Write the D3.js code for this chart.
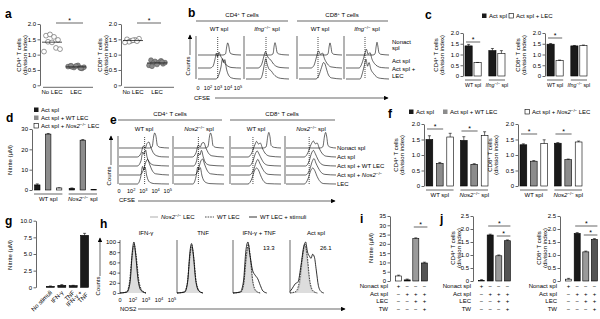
<!DOCTYPE html>
<html><head><meta charset="utf-8">
<script src="https://cdn.jsdelivr.net/npm/d3@7"></script>
<style>body{margin:0;background:#fff}</style>
</head><body><div id="fig"></div>
<script>
// ---- data ----
const aGroups = ["No LEC", "LEC"];
const aCD4NoLEC = [1.62, 1.66, 1.58, 1.48, 1.42, 1.40, 1.22, 1.10, 1.18];
const aCD4LEC = [0.62, 0.58, 0.65, 0.55, 0.60, 0.63, 0.57, 0.61, 0.59, 0.64, 0.56];
const aCD8NoLEC = [1.50, 1.45, 1.48, 1.52, 1.42, 1.47, 1.44, 1.40];
const aCD8LEC = [0.82, 0.78, 0.75, 0.70, 0.72, 0.68, 0.80, 0.65, 0.74, 0.62, 0.76];

const cGroups = ["WT", "Ifng"];
const cCD4 = [[1.40, 0.62], [1.18, 1.05]];
const cCD4Err = [[0.07, 0.01], [0.10, 0.13]];
const cCD8 = [[1.48, 0.72], [1.40, 1.42]];
const cCD8Err = [[0.03, 0.02], [0.02, 0.02]];

const dGroups = ["WT", "Nos2"];
const dNitrite = [[2.5, 27.5, 1.0], [0.8, 24.5, 0.2]];
const dErr = [[0.5, 0.3, 0.1], [0.2, 0.3, 0.05]];

const fCD4 = [[1.50, 0.73, 1.58], [1.47, 0.70, 1.63]];
const fCD4Err = [[0.12, 0.03, 0.12], [0.12, 0.02, 0.12]];
const fCD8 = [[1.33, 0.80, 1.37], [1.38, 0.85, 1.42]];
const fCD8Err = [[0.03, 0.02, 0.12], [0.02, 0.02, 0.03]];

const gStimuli = ["No stimuli", "IFN-γ", "TNF", "IFN-γ + TNF"];
const gNitrite = [0.15, 0.3, 0.25, 7.8];
const gErr = [0.05, 0.1, 0.05, 0.3];

const tableRows = ["Nonact spl", "Act spl", "LEC", "TW"];
const tableSigns = [["+", "−", "−", "−"], ["−", "+", "+", "+"], ["−", "−", "+", "+"], ["−", "−", "−", "+"]];
const iNitrite = [2.7, 0.6, 22.8, 9.7];
const jCD4 = [0.02, 1.77, 0.97, 1.55];
const jCD8 = [0.07, 1.83, 1.12, 1.60];

// CFSE histograms: [decade position, relative count]; rows nonact, act, act+LEC
const bCD4WT = [
  [[0,0],[2.5,0],[2.75,5],[2.88,40],[2.97,55],[3.06,45],[3.2,10],[3.4,4],[3.8,1],[4.3,0]],
  [[0,0],[1.2,0],[1.5,8],[1.7,40],[1.85,68],[1.95,50],[2.1,72],[2.25,55],[2.45,40],[2.7,20],[3.0,8],[3.4,2],[4.3,0]],
  [[0,0],[1.8,0],[2.05,15],[2.3,55],[2.45,92],[2.55,75],[2.68,88],[2.85,45],[3.05,18],[3.35,5],[3.8,1],[4.3,0]]];
const bCD4Ifng = [
  [[0,0],[2.45,0],[2.7,5],[2.82,42],[2.9,56],[2.98,44],[3.12,10],[3.35,4],[3.8,1],[4.3,0]],
  [[0,0],[1.2,0],[1.55,15],[1.8,55],[1.95,75],[2.1,58],[2.25,45],[2.45,38],[2.75,18],[3.1,6],[3.5,2],[4.3,0]],
  [[0,0],[1.4,0],[1.65,22],[1.85,70],[1.98,92],[2.1,70],[2.3,45],[2.5,38],[2.75,22],[3.05,10],[3.45,3],[4.3,0]]];
const bCD8WT = [
  [[0,0],[2.7,0],[2.9,5],[3.02,40],[3.1,55],[3.18,42],[3.3,10],[3.5,3],[4.3,0]],
  [[0,0],[1.2,0],[1.5,12],[1.75,50],[1.95,78],[2.15,62],[2.35,68],[2.55,42],[2.85,18],[3.2,5],[4.3,0]],
  [[0,0],[1.7,0],[2.0,18],[2.25,52],[2.45,75],[2.6,68],[2.75,45],[2.95,18],[3.25,5],[4.3,0]]];
const bCD8Ifng = [
  [[0,0],[2.7,0],[2.9,5],[3.02,40],[3.1,58],[3.18,42],[3.3,10],[3.5,3],[4.3,0]],
  [[0,0],[1.3,0],[1.65,28],[1.9,68],[2.05,85],[2.2,62],[2.4,70],[2.6,40],[2.85,20],[3.15,8],[3.55,2],[4.3,0]],
  [[0,0],[1.4,0],[1.65,28],[1.85,65],[2.0,90],[2.15,58],[2.3,75],[2.48,45],[2.75,25],[3.05,10],[3.45,3],[4.3,0]]];
const bDotted = [1.97, 2.0, 1.9, 1.9];

// rows nonact, act, act+WT LEC, act+Nos2 LEC, LEC
const eCD4WT = [
  [[0,0],[2.5,0],[2.72,6],[2.85,60],[2.93,75],[3.02,62],[3.15,12],[3.4,3],[4.1,0]],
  [[0,0],[1.5,0],[1.8,18],[2.0,55],[2.15,45],[2.3,68],[2.45,75],[2.6,50],[2.8,22],[3.1,6],[3.5,1],[4.1,0]],
  [[0,0],[1.5,0],[1.8,25],[1.95,70],[2.05,58],[2.18,80],[2.3,45],[2.55,15],[2.9,4],[4.1,0]],
  [[0,0],[1.7,0],[2.0,25],[2.2,65],[2.35,78],[2.5,55],[2.7,25],[3.0,6],[4.1,0]],
  [[0,0],[1.5,0],[1.78,35],[1.93,88],[2.03,70],[2.13,85],[2.28,40],[2.5,10],[2.9,2],[4.1,0]]];
const eCD4Nos2 = [
  [[0,0],[2.55,0],[2.78,6],[2.92,60],[3.0,75],[3.08,62],[3.2,12],[3.45,3],[4.1,0]],
  [[0,0],[1.5,0],[1.8,20],[2.0,60],[2.15,50],[2.3,70],[2.45,72],[2.6,48],[2.8,22],[3.1,6],[4.1,0]],
  [[0,0],[1.6,0],[1.85,25],[2.0,65],[2.12,55],[2.25,78],[2.4,45],[2.6,15],[2.95,4],[4.1,0]],
  [[0,0],[1.7,0],[2.0,28],[2.2,70],[2.35,80],[2.5,55],[2.7,25],[3.0,6],[4.1,0]],
  [[0,0],[1.55,0],[1.8,35],[1.95,85],[2.05,70],[2.15,82],[2.3,40],[2.55,10],[2.95,2],[4.1,0]]];
const eCD8WT = [
  [[0,0],[2.65,0],[2.88,6],[3.02,60],[3.1,78],[3.18,62],[3.3,12],[3.55,3],[4.1,0]],
  [[0,0],[1.4,0],[1.7,20],[1.95,60],[2.1,78],[2.25,65],[2.4,70],[2.6,40],[2.85,15],[3.2,4],[4.1,0]],
  [[0,0],[1.5,0],[1.8,25],[2.0,62],[2.15,75],[2.3,60],[2.5,35],[2.75,12],[3.1,3],[4.1,0]],
  [[0,0],[1.5,0],[1.85,25],[2.05,62],[2.2,78],[2.35,60],[2.55,35],[2.8,12],[3.1,3],[4.1,0]],
  [[0,0],[1.4,0],[1.7,25],[1.95,70],[2.1,80],[2.25,70],[2.45,40],[2.7,12],[3.0,2],[4.1,0]]];
const eCD8Nos2 = [
  [[0,0],[2.8,0],[3.02,6],[3.16,60],[3.25,78],[3.33,60],[3.45,12],[3.7,3],[4.1,0]],
  [[0,0],[1.5,0],[1.8,22],[2.05,62],[2.25,80],[2.4,66],[2.55,70],[2.75,40],[3.0,15],[3.3,4],[4.1,0]],
  [[0,0],[1.6,0],[1.9,25],[2.1,65],[2.25,78],[2.4,62],[2.6,35],[2.85,12],[3.2,3],[4.1,0]],
  [[0,0],[1.6,0],[1.95,28],[2.15,68],[2.3,82],[2.45,60],[2.65,35],[2.9,12],[3.2,3],[4.1,0]],
  [[0,0],[1.5,0],[1.8,25],[2.05,70],[2.2,80],[2.35,68],[2.55,38],[2.8,12],[3.1,2],[4.1,0]]];
const eDotted = [2.1, 2.0, 1.8, 1.9];

// NOS2 histograms: Nos2-/- LEC, WT LEC, WT LEC + stimuli
const hIFNg = [
  [[0,0],[0.5,1],[0.72,15],[0.92,65],[1.08,92],[1.22,70],[1.42,22],[1.65,4],[2.0,0]],
  [[0,0],[0.5,2],[0.72,20],[0.92,72],[1.08,96],[1.24,74],[1.45,25],[1.7,5],[2.0,0]],
  [[0,0],[0.55,2],[0.78,22],[0.96,85],[1.07,100],[1.18,82],[1.38,28],[1.62,5],[2.0,0]]];
const hTNF = [
  [[0,0],[0.55,1],[0.78,15],[0.98,65],[1.12,90],[1.26,68],[1.46,20],[1.7,3],[2.0,0]],
  [[0,0],[0.55,2],[0.78,18],[0.98,70],[1.13,94],[1.28,72],[1.48,22],[1.72,4],[2.0,0]],
  [[0,0],[0.6,2],[0.82,22],[1.0,82],[1.12,97],[1.24,80],[1.44,25],[1.68,4],[2.0,0]]];
const hIFNgTNF = [
  [[0,0],[0.6,1],[0.82,15],[1.02,65],[1.17,90],[1.32,68],[1.52,20],[1.76,3],[2.1,0]],
  [[0,0],[0.6,2],[0.82,18],[1.02,72],[1.18,95],[1.33,72],[1.53,22],[1.78,4],[2.1,0]],
  [[0,0],[0.55,2],[0.8,22],[1.0,85],[1.15,100],[1.3,75],[1.5,45],[1.7,35],[1.9,28],[2.1,15],[2.3,4],[2.6,0]]];
const hActSpl = [
  [[0,0],[0.5,2],[0.75,18],[0.98,68],[1.15,92],[1.3,70],[1.5,22],[1.75,3],[2.1,0]],
  [[0,0],[0.45,3],[0.7,20],[0.95,70],[1.15,96],[1.32,74],[1.52,25],[1.78,4],[2.1,0]],
  [[0,3],[0.15,8],[0.4,18],[0.62,22],[0.85,55],[1.05,90],[1.2,100],[1.35,80],[1.5,72],[1.62,68],[1.74,76],[1.88,70],[2.02,45],[2.18,15],[2.38,3],[2.6,0]]];
const hPercent = [null, null, "13.3", "26.1"];

// ---- helpers ----
const FONT = "'Liberation Sans', Arial, Helvetica, sans-serif";
const svg = d3.select("#fig").append("svg").attr("width", 600).attr("height", 319)
  .attr("font-family", FONT).attr("font-size", 6);
svg.append("defs").append("marker").attr("id", "arrow").attr("viewBox", "0 0 8 8")
  .attr("refX", 7).attr("refY", 4).attr("markerUnits", "userSpaceOnUse")
  .attr("markerWidth", 4.5).attr("markerHeight", 4.5).attr("orient", "auto")
  .append("path").attr("d", "M0,0L8,4L0,8Z");

function rich(x, y, parts, o = {}) {
  const size = o.size || 6;
  const t = svg.append("text").attr("x", x).attr("y", y).attr("font-size", size)
    .attr("text-anchor", o.anchor || "start");
  if (o.rot) t.attr("transform", `rotate(${o.rot},${x},${y})`);
  if (o.weight) t.attr("font-weight", o.weight);
  let shift = 0;
  parts.forEach(p => {
    if (typeof p === "string") p = { t: p };
    const s = t.append("tspan").text(p.t);
    const want = p.sup ? -size * 0.38 : 0;
    if (want !== shift) { s.attr("dy", want - shift); shift = want; }
    if (p.sup) s.attr("font-size", size * 0.72);
    if (p.it) s.attr("font-style", "italic");
  });
  return t;
}
const ko = g => [{ t: g, it: 1 }, { t: "−/−", sup: 1 }];
function letter(x, y, s) {
  svg.append("text").attr("x", x).attr("y", y).attr("font-size", 12).attr("font-weight", "bold").text(s);
}
function line(x1, y1, x2, y2, w = 0.6, col = "#000") {
  return svg.append("line").attr("x1", x1).attr("y1", y1).attr("x2", x2).attr("y2", y2)
    .attr("stroke", col).attr("stroke-width", w);
}
function arrow(x1, y1, x2, y2) {
  line(x1, y1, x2, y2, 0.6).attr("marker-end", "url(#arrow)");
}
function yAxis(ax, y, ticks, fmt) {
  const g = svg.append("g").attr("transform", `translate(${ax},0)`)
    .call(d3.axisLeft(y).tickValues(ticks).tickFormat(fmt).tickSize(2.5).tickSizeOuter(0).tickPadding(1.5));
  g.attr("font-size", 6).attr("font-family", FONT);
  g.selectAll("path,line").attr("stroke-width", 0.6);
  return g;
}
const fmt1 = d => d === 0 ? "0" : d3.format(".1f")(d);
function yLabel(x, yc, lines) {
  lines.forEach((p, i) => rich(x + i * 6.2, yc, p, { anchor: "middle", rot: -90 }));
}
function sig(x1, x2, y) {
  line(x1, y, x2, y, 0.6);
  svg.append("text").attr("x", (x1 + x2) / 2).attr("y", y - 0.5).attr("text-anchor", "middle")
    .attr("font-size", 7).text("*");
}
function errBar(x, y1, y2) {
  line(x, y1, x, y2, 0.6);
  line(x - 1.5, y2, x + 1.5, y2, 0.6);
}
const divLab = [["CD4", { t: "+", sup: 1 }, " T cells"], ["(division index)"]];
const divLab8 = [["CD8", { t: "+", sup: 1 }, " T cells"], ["(division index)"]];

function groupedBars(vals, errs, groups, x0, x1, y, colors) {
  const flat = [];
  groups.forEach((g, gi) => vals[gi].forEach((v, si) => flat.push({ g, si, v, e: errs[gi][si] })));
  svg.append("g").selectAll("rect").data(flat).join("rect")
    .attr("x", d => x0(d.g) + x1(d.si)).attr("width", x1.bandwidth())
    .attr("y", d => y(d.v)).attr("height", d => y(0) - y(d.v))
    .attr("fill", d => colors[d.si]).attr("stroke", "#000").attr("stroke-width", 0.6);
  flat.forEach(d => errBar(x0(d.g) + x1(d.si) + x1.bandwidth() / 2, y(d.v), y(d.v + d.e)));
}
function groupLabels(groups, labels, x0, yb, size = 6) {
  groups.forEach((g, i) => {
    line(x0(g), yb + 4, x0(g) + x0.bandwidth(), yb + 4, 0.6);
    rich(x0(g) + x0.bandwidth() / 2, yb + 11, labels[i], { anchor: "middle", size });
  });
}

// ---- a ----
letter(5, 18, "a");
const jit = [-6, -2, 2, 6, -4, 0, 4, -8, 8, -5, 5];
function scatter(ax, noLec, lec, lab, sigX) {
  const y = d3.scaleLinear().domain([0, 2]).range([85.3, 24]);
  const x = d3.scalePoint().domain(aGroups).range([ax + 12, ax + 36]);
  yAxis(ax, y, [0, 0.5, 1, 1.5, 2], fmt1);
  line(ax + 3, y(0) + 2, ax + 53, y(0) + 2);
  aGroups.forEach(g => rich(x(g), 94, [g], { anchor: "middle" }));
  [noLec, lec].forEach((vals, gi) => {
    const cx = x(aGroups[gi]);
    svg.append("g").selectAll("circle").data(vals).join("circle")
      .attr("cx", (d, i) => cx + jit[i % jit.length]).attr("cy", d => y(d)).attr("r", 2.4)
      .attr("fill", gi ? "#8a8a8a" : "#fff").attr("stroke", "#555").attr("stroke-width", 0.6);
    const m = d3.mean(vals);
    line(cx - 10, y(m), cx + 10, y(m), 0.7);
  });
  yLabel(ax - 19, 55, lab);
  sig(x(aGroups[0]) + sigX[0], x(aGroups[1]) + sigX[1], 23);
}
scatter(40, aCD4NoLEC, aCD4LEC, divLab, [4, 7]);
scatter(121, aCD8NoLEC, aCD8LEC, divLab8, [4, 4]);

// ---- b ----
letter(188, 17, "b");
function histPanels(cfg) {
  cfg.lefts.forEach((left, pi) => {
    const x = d3.scaleLinear().domain([0, cfg.uMax]).range([left + cfg.pad, left + cfg.pad + cfg.w]);
    const h = d3.scaleLinear().domain([0, 100]).range([0, cfg.hPx]);
    line(left, cfg.top, left, d3.max(cfg.bases), 0.6);
    if (cfg.dots) line(x(cfg.dots[pi]), cfg.top + 1, x(cfg.dots[pi]), d3.max(cfg.bases), 0.7)
      .attr("stroke-dasharray", "1,1");
    cfg.curves[pi].forEach((c, ri) => {
      const base = cfg.bases[Math.min(ri, cfg.bases.length - 1)];
      const gen = d3.line().x(d => x(d[0])).y(d => base - h(d[1])).curve(d3.curveMonotoneX);
      const p = svg.append("path").attr("d", gen(c)).attr("fill", "none")
        .attr("stroke", "#000").attr("stroke-width", 0.6);
      if (cfg.style) cfg.style(p, ri);
    });
    if (pi === 0 && cfg.tickY) {
      ["0", "2", "3", "4", "5"].forEach((e, k) =>
        rich(x(k), cfg.tickY, k === 0 ? ["0"] : ["10", { t: e, sup: 1 }], { anchor: "middle", size: 5.5 }));
    }
  });
}
rich(242, 17, ["CD4", { t: "+", sup: 1 }, " T cells"], { anchor: "middle" });
line(196, 21, 288, 21);
rich(342, 17, ["CD8", { t: "+", sup: 1 }, " T cells"], { anchor: "middle" });
line(297, 21, 388, 21);
const bLefts = [196, 244, 297, 344];
[["WT spl"], [...ko("Ifng"), " spl"], ["WT spl"], [...ko("Ifng"), " spl"]]
  .forEach((t, i) => rich(bLefts[i] + 23, 31, t, { anchor: "middle" }));
histPanels({ lefts: bLefts, pad: 2, w: 43, uMax: 4.3, top: 36, bases: [55, 68, 79], hPx: 22,
  curves: [bCD4WT, bCD4Ifng, bCD8WT, bCD8Ifng], dots: bDotted, tickY: 90 });
[["Nonact", 44], ["spl", 50], ["Act spl", 63], ["Act spl +", 71], ["LEC", 78]]
  .forEach(d => rich(392, d[1], [d[0]]));
rich(190, 66, ["Counts"], { anchor: "middle", rot: -90 });
arrow(190, 55, 190, 35);
rich(194, 100, ["CFSE"]);
arrow(215, 98, 388, 98);

// ---- c ----
letter(425, 19, "c");
svg.append("rect").attr("x", 482).attr("y", 13.5).attr("width", 4.5).attr("height", 4.5).attr("fill", "#1a1a1a");
rich(489, 18, ["Act spl"]);
svg.append("rect").attr("x", 509).attr("y", 13.5).attr("width", 4.5).attr("height", 4.5)
  .attr("fill", "#fff").attr("stroke", "#000").attr("stroke-width", 0.6);
rich(516, 18, ["Act spl + LEC"]);
const cColors = ["#1a1a1a", "#fff"];
const cLabels = [["WT spl"], [...ko("Ifng"), " spl"]];
function cChart(ax, vals, errs, lab, sigY) {
  const y = d3.scaleLinear().domain([0, 2]).range([76, 33]);
  yAxis(ax, y, [0, 0.5, 1, 1.5, 2], fmt1);
  const x0 = d3.scaleBand().domain(cGroups).range([ax + 2, ax + 42]).paddingInner(0.32);
  const x1 = d3.scaleBand().domain([0, 1]).range([0, x0.bandwidth()]).paddingInner(0.2);
  groupedBars(vals, errs, cGroups, x0, x1, y, cColors);
  groupLabels(cGroups, cLabels, x0, 76, 5.3);
  yLabel(ax - 25, 55, lab);
  sig(x0("WT") + 1, x0("WT") + x0.bandwidth() - 1, sigY);
}
cChart(463, cCD4, cCD4Err, divLab, 42);
cChart(545, cCD8, cCD8Err, divLab8, 38);

// ---- d ----
letter(6, 122, "d");
const dColors = ["#1a1a1a", "#8c8c8c", "#fff"];
const dLegend = [["Act spl"], ["Act spl + WT LEC"], ["Act spl + ", ...ko("Nos2"), " LEC"]];
function legendRows(x, ys, labels, colors) {
  labels.forEach((l, i) => {
    svg.append("rect").attr("x", x).attr("y", ys[i] - 4.5).attr("width", 4.5).attr("height", 4.5)
      .attr("fill", colors[i]).attr("stroke", "#000").attr("stroke-width", i === 2 ? 0.6 : 0);
    rich(x + 7, ys[i], l);
  });
}
legendRows(34, [112, 120, 128], dLegend, dColors);
{
  const y = d3.scaleLinear().domain([0, 30]).range([190, 129]);
  yAxis(32, y, [0, 10, 20, 30], d => d);
  const x0 = d3.scaleBand().domain(dGroups).range([34, 97]).paddingInner(0.18);
  const x1 = d3.scaleBand().domain([0, 1, 2]).range([0, x0.bandwidth()]).paddingInner(0.5).paddingOuter(0.05);
  groupedBars(dNitrite, dErr, dGroups, x0, x1, y, dColors);
  groupLabels(dGroups, [["WT spl"], [...ko("Nos2"), " spl"]], x0, 190);
  rich(12, 160, ["Nitrite (µM)"], { anchor: "middle", rot: -90 });
}

// ---- e ----
letter(110, 124, "e");
const eLefts = [118, 173, 230, 285];
rich(170, 116, ["CD4", { t: "+", sup: 1 }, " T cells"], { anchor: "middle" });
line(118, 120, 222, 120);
rich(282, 116, ["CD8", { t: "+", sup: 1 }, " T cells"], { anchor: "middle" });
line(230, 120, 335, 120);
[["WT spl"], [...ko("Nos2"), " spl"], ["WT spl"], [...ko("Nos2"), " spl"]]
  .forEach((t, i) => rich(eLefts[i] + 26, 131, t, { anchor: "middle" }));
histPanels({ lefts: eLefts, pad: 1, w: 50, uMax: 4.1, top: 136, bases: [148, 157, 166, 175, 184], hPx: 20,
  curves: [eCD4WT, eCD4Nos2, eCD8WT, eCD8Nos2], dots: eDotted, tickY: 193 });
[[["Nonact spl"], 150], [["Act spl"], 159], [["Act spl + WT LEC"], 168], [["Act spl + ", ...ko("Nos2")], 177], [["LEC"], 186]]
  .forEach(d => rich(337, d[1], d[0]));
rich(111, 176, ["Counts"], { anchor: "middle", rot: -90 });
arrow(111, 165, 111, 136);
rich(119, 202, ["CFSE"]);
arrow(138, 201, 335, 201);

// ---- f ----
letter(388, 118, "f");
svg.append("rect").attr("x", 409).attr("y", 109.5).attr("width", 4.5).attr("height", 4.5).attr("fill", dColors[0]);
rich(416, 114, ["Act spl"]);
svg.append("rect").attr("x", 443).attr("y", 109.5).attr("width", 4.5).attr("height", 4.5).attr("fill", dColors[1]);
rich(450, 114, ["Act spl + WT LEC"]);
svg.append("rect").attr("x", 525).attr("y", 109.5).attr("width", 4.5).attr("height", 4.5)
  .attr("fill", "#fff").attr("stroke", "#000").attr("stroke-width", 0.6);
rich(532, 114, ["Act spl + ", ...ko("Nos2"), " LEC"]);
function fChart(ax, vals, errs, lab, sigYs) {
  const y = d3.scaleLinear().domain([0, 2]).range([186, 124]);
  yAxis(ax, y, [0, 0.5, 1, 1.5, 2], fmt1);
  const x0 = d3.scaleBand().domain(dGroups).range([ax + 2, ax + 64]).paddingInner(0.2);
  const x1 = d3.scaleBand().domain([0, 1, 2]).range([0, x0.bandwidth()]).paddingInner(0.35);
  groupedBars(vals, errs, dGroups, x0, x1, y, dColors);
  groupLabels(dGroups, [["WT spl"], [...ko("Nos2"), " spl"]], x0, 186);
  yLabel(ax - 26, 155, lab);
  dGroups.forEach((g, i) => sig(x0(g) + x1(0) + 1, x0(g) + x1(1) + x1.bandwidth(), sigYs[i]));
}
fChart(424, fCD4, fCD4Err, divLab, [129, 131]);
fChart(518, fCD8, fCD8Err, divLab8, [134, 134]);

// ---- g ----
letter(5, 225, "g");
{
  const y = d3.scaleLinear().domain([0, 10]).range([287.3, 220.7]);
  yAxis(36, y, [0, 2.5, 5, 7.5, 10], fmt1);
  const x = d3.scaleBand().domain(gStimuli).range([43, 92]).padding(0.3);
  svg.append("g").selectAll("rect").data(gStimuli).join("rect")
    .attr("x", d => x(d)).attr("width", x.bandwidth())
    .attr("y", (d, i) => y(gNitrite[i])).attr("height", (d, i) => y(0) - y(gNitrite[i]))
    .attr("fill", "#1a1a1a").attr("stroke", "#000").attr("stroke-width", 0.6);
  gStimuli.forEach((s, i) => {
    errBar(x(s) + x.bandwidth() / 2, y(gNitrite[i]), y(gNitrite[i] + gErr[i]));
    const cx = x(s) + x.bandwidth() / 2 + 2, cy = 293;
    if (i === 3) {
      rich(cx - 4, cy, ["IFN-γ +"], { anchor: "end", rot: -45 });
      rich(cx + 2, cy + 2, ["TNF"], { anchor: "end", rot: -45 });
    } else rich(cx, cy, [s], { anchor: "end", rot: -45 });
  });
  rich(12, 255, ["Nitrite (µM)"], { anchor: "middle", rot: -90 });
}

// ---- h ----
letter(100, 228, "h");
line(150, 217, 158, 217, 1.2, "#bbb");
rich(161, 219, [...ko("Nos2"), " LEC"]);
line(205, 217, 214, 217, 0.7).attr("stroke-dasharray", "1.6,1");
rich(217, 219, ["WT LEC"]);
line(249, 217, 257, 217, 0.8);
rich(260, 219, ["WT LEC + stimuli"]);
const hLefts = [120, 177, 233, 290];
const hTitles = [["IFN-γ"], ["TNF"], ["IFN-γ + TNF"], ["Act spl"]];
hTitles.forEach((t, i) => rich(hLefts[i] + 26, 235, t, { anchor: "middle" }));
histPanels({ lefts: hLefts, pad: 0, w: 52, uMax: 4, top: 240, bases: [293], hPx: 51,
  curves: [hIFNg, hTNF, hIFNgTNF, hActSpl], tickY: 302,
  style: (p, ri) => {
    if (ri === 0) p.attr("fill", "#ddd").attr("stroke", "#999").attr("stroke-width", 0.6).lower();
    if (ri === 1) p.attr("stroke-dasharray", "1.6,1").attr("stroke-width", 0.7);
    if (ri === 2) p.attr("stroke-width", 0.8);
  } });
hPercent.forEach((v, i) => { if (v) rich(hLefts[i] + 30, 250, [v]); });
{
  const y = d3.scaleLinear().domain([0, 100]).range([293, 242]);
  yAxis(120, y, [0, 20, 40, 60, 80, 100], d => d).select(".domain").remove();
}
rich(100, 286, ["Counts"], { anchor: "middle", rot: -90 });
arrow(100, 276, 100, 238);
rich(120, 311, ["NOS2"]);
arrow(138, 309, 345, 309);

// ---- i, j ----
const ijColors = ["#fff", "#1a1a1a", "#9a9a9a", "#555"];
const rowY = [288, 295.5, 303, 310.5];
function ijChart(ax, vals, max, ticks, fmt, labX) {
  const y = d3.scaleLinear().domain([0, max]).range([281, 216]);
  yAxis(ax, y, ticks, fmt);
  const x = d3.scaleBand().domain(d3.range(vals.length)).range([ax + 3, ax + 40]).padding(0.3);
  svg.append("g").selectAll("rect").data(vals).join("rect")
    .attr("x", (d, i) => x(i)).attr("width", x.bandwidth())
    .attr("y", d => y(d)).attr("height", d => y(0) - y(d))
    .attr("fill", (d, i) => ijColors[i]).attr("stroke", "#000").attr("stroke-width", 0.6);
  vals.forEach((v, i) => errBar(x(i) + x.bandwidth() / 2, y(v), y(v) - 0.8));
  tableRows.forEach((r, ri) => {
    rich(labX, rowY[ri], [r], { anchor: "end" });
    tableSigns[ri].forEach((s, ci) => rich(x(ci) + x.bandwidth() / 2, rowY[ri], [s], { anchor: "middle" }));
  });
  return x;
}
letter(360, 223, "i");
{
  const x = ijChart(390, iNitrite, 35, [0, 5, 10, 15, 20, 25, 30, 35], d => d, 388);
  sig(x(2) + 1, x(3) + x.bandwidth(), 227);
  rich(373, 248, ["Nitrite (µM)"], { anchor: "middle", rot: -90 });
}
letter(440, 223, "j");
{
  let x = ijChart(473, jCD4, 2.5, [0, 0.5, 1, 1.5, 2, 2.5], fmt1, 471);
  sig(x(1) + 1, x(3) + x.bandwidth(), 226);
  sig(x(2) + 1, x(3) + x.bandwidth(), 236);
  yLabel(455, 248, divLab);
  x = ijChart(560, jCD8, 2.5, [0, 0.5, 1, 1.5, 2, 2.5], fmt1, 557);
  sig(x(1) + 1, x(3) + x.bandwidth(), 226);
  sig(x(2) + 1, x(3) + x.bandwidth(), 235);
  yLabel(541, 248, divLab8);
}
</script></body></html>
